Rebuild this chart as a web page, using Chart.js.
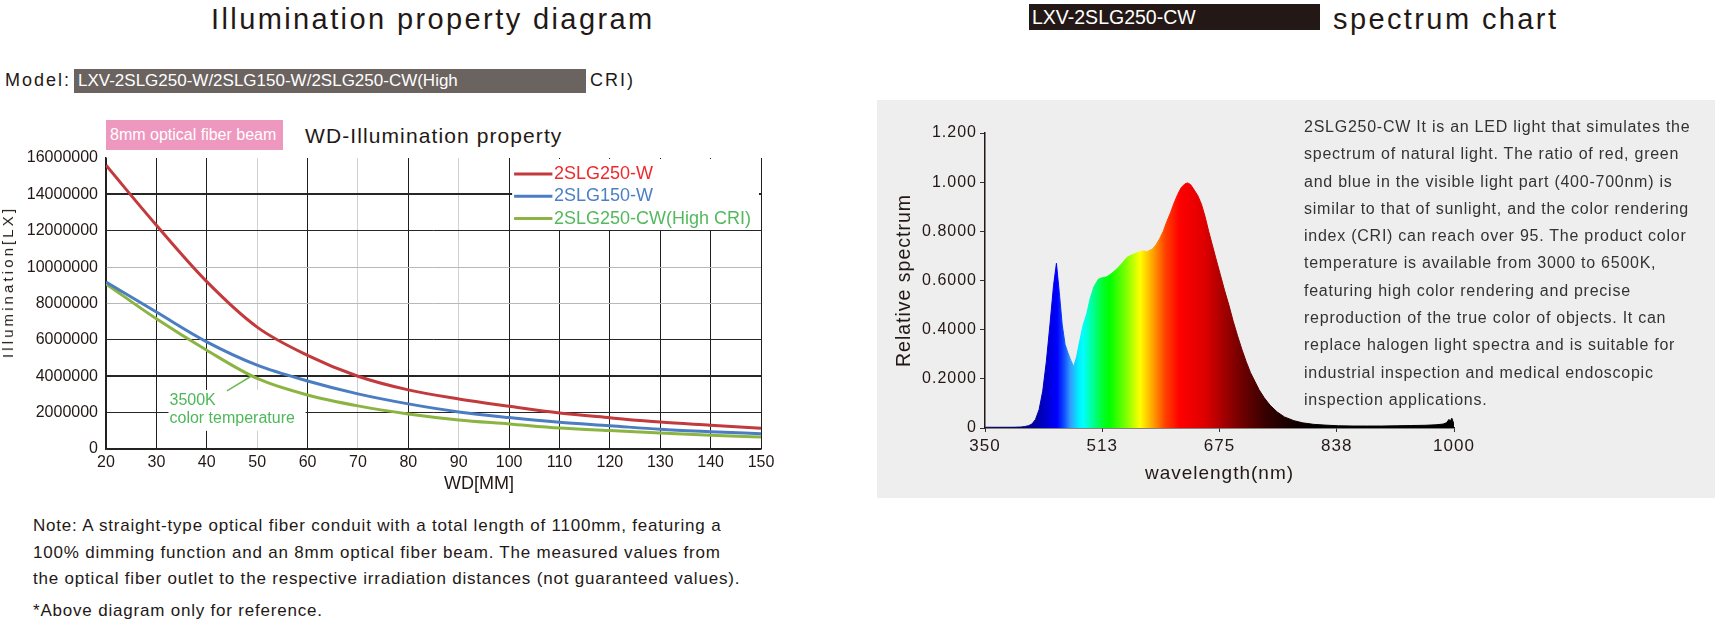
<!DOCTYPE html>
<html>
<head>
<meta charset="utf-8">
<title>Illumination property / spectrum chart</title>
<script src="https://cdn.jsdelivr.net/npm/chart.js@4.4.1/dist/chart.umd.min.js"></script>
<style>
    body { margin: 0; background: #fff; }
    #page { position: relative; width: 1718px; height: 623px; overflow: hidden;
            font-family: "Liberation Sans", Arial, sans-serif; color: #231815; }
    .abs { position: absolute; white-space: nowrap; }
    .big { font-size: 29px; line-height: 30px; letter-spacing: 2.4px; }
    .note { left: 33px; font-size: 17px; line-height: 24px; letter-spacing: 0.8px; }
    .desc { left: 1304px; top: 113px; font-size: 16px; line-height: 27.3px; letter-spacing: 0.75px; color: #333; }
</style>
</head>
<body>
<div id="page">
    <!-- left block -->
    <div class="abs big" style="left:211px; top:4px;">Illumination property diagram</div>
    <div class="abs" style="left:5px; top:68px; font-size:18px; line-height:24px; letter-spacing:2px;">Model:</div>
    <div class="abs" style="left:74px; top:69px; width:512px; height:24px; background:#6b6360; color:#fff; font-size:17px; line-height:24px; padding-left:4px; box-sizing:border-box;">LXV-2SLG250-W/2SLG150-W/2SLG250-CW(High</div>
    <div class="abs" style="left:590px; top:68px; font-size:18px; line-height:24px; letter-spacing:2px;">CRI)</div>
    <div class="abs" style="left:106px; top:120px; width:177px; height:30px; background:#ee97bf; color:#fff; font-size:16px; line-height:30px; padding-left:4px; box-sizing:border-box;">8mm optical fiber beam</div>
    <div class="abs" style="left:305px; top:123px; font-size:21px; line-height:26px; letter-spacing:1.1px;">WD-Illumination property</div>

    <div id="illumWrap" class="abs" style="left:0; top:140px; width:790px; height:340px;">
        <canvas id="illumChart"></canvas>
    </div>
    <div class="abs" style="left:8px; top:282px; transform:translate(-50%,-50%) rotate(-90deg); font-size:15px; line-height:18px; letter-spacing:3.1px;">Illumination[LX]</div>
    <div class="abs" style="left:479px; top:483px; transform:translate(-50%,-50%); font-size:18px; line-height:22px;">WD[MM]</div>

    <div class="abs note" style="top:514px;">Note: A straight-type optical fiber conduit with a total length of 1100mm, featuring a</div>
    <div class="abs note" style="top:541px;">100% dimming function and an 8mm optical fiber beam. The measured values from</div>
    <div class="abs note" style="top:567px;">the optical fiber outlet to the respective irradiation distances (not guaranteed values).</div>
    <div class="abs note" style="top:599px;">*Above diagram only for reference.</div>

    <!-- right block -->
    <div class="abs" style="left:1029px; top:4px; width:291px; height:26px; background:#231815; color:#fff; font-size:19.5px; line-height:26px; padding-left:3px; box-sizing:border-box;">LXV-2SLG250-CW</div>
    <div class="abs big" style="left:1333px; top:4px;">spectrum chart</div>
    <div class="abs" style="left:877px; top:100px; width:838px; height:398px; background:#eeeeee;"></div>
    <div id="specWrap" class="abs" style="left:877px; top:100px; width:603px; height:398px;">
        <canvas id="specChart"></canvas>
    </div>
    <div class="abs desc">2SLG250-CW It is an LED light that simulates the<br>spectrum of natural light. The ratio of red, green<br>and blue in the visible light part (400-700nm) is<br>similar to that of sunlight, and the color rendering<br>index (CRI) can reach over 95. The product color<br>temperature is available from 3000 to 6500K,<br>featuring high color rendering and precise<br>reproduction of the true color of objects. It can<br>replace halogen light spectra and is suitable for<br>industrial inspection and medical endoscopic<br>inspection applications.</div>
</div>

<script>
// ---- WD - illumination data ----
const wd = [20, 30, 40, 50, 60, 70, 80, 90, 100, 110, 120, 130, 140, 150];
const w250 = [15600000, 12300000, 9200000, 6700000, 5150000, 4000000, 3250000, 2750000, 2350000, 1980000, 1720000, 1480000, 1310000, 1140000];
const w150 = [9180000, 7530000, 5890000, 4610000, 3740000, 3030000, 2480000, 2040000, 1730000, 1470000, 1280000, 1080000, 950000, 840000];
const cw250 = [9080000, 7160000, 5430000, 3880000, 2970000, 2370000, 1930000, 1600000, 1380000, 1150000, 1020000, 880000, 750000, 660000];
const seriesNames = ['2SLG250-W', '2SLG150-W', '2SLG250-CW(High CRI)'];
const lightGridX = [50, 70, 90];
const lightGridY = [8000000, 10000000];

// ---- spectrum data ----
const wavelength = [350, 360, 370, 380, 390, 400, 405, 410, 415, 420, 425, 430, 435, 440, 445, 449, 453, 457, 461, 465,
    469, 473, 477, 481, 486, 491, 496, 501, 507, 513, 519, 526, 533, 540, 547, 554, 561, 568, 575, 582,
    587, 592, 597, 602, 607, 612, 617, 622, 627, 631, 635, 640, 645, 650, 655, 660, 665, 670, 676, 682,
    688, 694, 700, 706, 712, 718, 724, 730, 737, 745, 755, 765, 778, 790, 805, 820, 840, 860, 880, 900,
    920, 940, 960, 975, 985, 990, 993, 995, 997, 1000];
const relative = [0.003, 0.003, 0.003, 0.003, 0.003, 0.004, 0.006, 0.009, 0.016, 0.035, 0.075, 0.15, 0.27, 0.42, 0.58, 0.67, 0.55, 0.42, 0.34, 0.305,
    0.275, 0.25, 0.29, 0.35, 0.42, 0.465, 0.53, 0.575, 0.605, 0.612, 0.615, 0.63, 0.648, 0.67, 0.695, 0.705, 0.713, 0.72, 0.718, 0.728,
    0.745, 0.77, 0.8, 0.84, 0.875, 0.915, 0.95, 0.978, 0.993, 0.997, 0.99, 0.968, 0.945, 0.91, 0.86, 0.8, 0.745, 0.69, 0.625, 0.56,
    0.5, 0.434, 0.375, 0.32, 0.27, 0.225, 0.19, 0.155, 0.123, 0.093, 0.065, 0.045, 0.03, 0.021, 0.015, 0.012, 0.009, 0.008, 0.008, 0.008,
    0.009, 0.01, 0.011, 0.013, 0.016, 0.022, 0.035, 0.028, 0.04, 0.015];
const specXTicks = [350, 512.5, 675, 837.5, 1000];
const specXLabels = ['350', '513', '675', '838', '1000'];
const specYTicks = [0, 0.2, 0.4, 0.6, 0.8, 1.0, 1.2];
const specYLabels = ['0', '0.2000', '0.4000', '0.6000', '0.8000', '1.000', '1.200'];

// wavelength -> colour of the rainbow fill
const rainbow = [
    [350, '#101060'], [400, '#000070'], [425, '#0000b0'], [440, '#0000e0'], [450, '#0000ff'],
    [460, '#1050ff'], [468, '#3399ff'], [480, '#00f0ff'], [486, '#00ffff'], [500, '#00ff90'],
    [515, '#00ff20'], [523, '#00ff00'], [546, '#80ff00'], [565, '#ffff00'], [583, '#ffa000'],
    [600, '#ff4000'], [620, '#ff0000'], [655, '#dd0000'], [690, '#900000'], [705, '#700000'],
    [740, '#350000'], [780, '#100000'], [810, '#000000'], [1000, '#000000']
];

document.addEventListener('DOMContentLoaded', function() {
    const font = '"Liberation Sans", Arial, sans-serif';

    function pts(ys) {
        return wd.map((x, i) => ({ x: x, y: ys[i] }));
    }

    // legend box + "3500K" note, placed in value space
    const illumExtras = {
        id: 'illumExtras',
        beforeDatasetsDraw(chart) {
            const c = chart.ctx, x = chart.scales.x, y = chart.scales.y;
            c.save();
            c.fillStyle = '#fff';
            c.fillRect(x.getPixelForValue(100.6), y.getPixelForValue(16000000) + 1,
                x.getPixelForValue(149.6) - x.getPixelForValue(100.6),
                y.getPixelForValue(12100000) - y.getPixelForValue(16000000));
            c.fillRect(x.getPixelForValue(32.4), y.getPixelForValue(3250000),
                x.getPixelForValue(59.6) - x.getPixelForValue(32.4),
                y.getPixelForValue(1000000) - y.getPixelForValue(3250000));
            c.strokeStyle = '#6dbb4f';
            c.lineWidth = 1.5;
            c.beginPath();
            c.moveTo(x.getPixelForValue(44), y.getPixelForValue(3200000));
            c.lineTo(x.getPixelForValue(48.8), y.getPixelForValue(4000000));
            c.stroke();
            c.fillStyle = '#4db85a';
            c.font = '16px ' + font;
            c.textBaseline = 'middle';
            c.fillText('3500K', x.getPixelForValue(32.6), y.getPixelForValue(2640000));
            c.fillText('color temperature', x.getPixelForValue(32.6), y.getPixelForValue(1690000));
            c.restore();
        },
        afterDatasetsDraw(chart) {
            const c = chart.ctx, x = chart.scales.x, y = chart.scales.y;
            const rows = [15120000, 13900000, 12670000];
            const textColors = ['#ee2a2e', '#4b7fc6', '#53b95c'];
            c.save();
            c.font = '18px ' + font;
            c.textBaseline = 'middle';
            chart.data.datasets.forEach((ds, i) => {
                const py = y.getPixelForValue(rows[i]);
                c.strokeStyle = ds.borderColor;
                c.lineWidth = 3;
                c.beginPath();
                c.moveTo(x.getPixelForValue(101), py);
                c.lineTo(x.getPixelForValue(108.6), py);
                c.stroke();
                c.fillStyle = textColors[i];
                c.fillText(ds.label, x.getPixelForValue(108.9), py);
            });
            c.restore();
        }
    };

    new Chart(document.getElementById('illumChart').getContext('2d'), {
        type: 'line',
        data: {
            datasets: [
                { label: seriesNames[0], data: pts(w250), borderColor: '#c23a3c' },
                { label: seriesNames[1], data: pts(w150), borderColor: '#4a7dc2' },
                { label: seriesNames[2], data: pts(cw250), borderColor: '#8cb443' }
            ]
        },
        options: {
            responsive: true,
            maintainAspectRatio: false,
            animation: false,
            layout: { padding: { top: 18, right: 29, left: 0, bottom: 0 } },
            elements: {
                line: { borderWidth: 3, tension: 0.4, cubicInterpolationMode: 'monotone', fill: false },
                point: { radius: 0 }
            },
            plugins: { legend: { display: false }, tooltip: { enabled: false } },
            scales: {
                x: {
                    type: 'linear', min: 20, max: 150,
                    ticks: { stepSize: 10, color: '#231815', padding: 4, font: { size: 16, family: font } },
                    grid: {
                        drawTicks: false,
                        color: ctx => lightGridX.includes(ctx.tick.value) ? '#d0d0d0' : '#1e1e1e',
                        lineWidth: 1
                    },
                    border: { color: '#222', width: 1.5 },
                    afterFit: s => { s.height = 31; }
                },
                y: {
                    min: 0, max: 16000000,
                    ticks: { stepSize: 2000000, color: '#231815', padding: 8, font: { size: 16, family: font },
                        callback: v => String(v) },
                    grid: {
                        drawTicks: false,
                        color: ctx => {
                            if (ctx.tick.value === 16000000) return 'rgba(0,0,0,0)';
                            return lightGridY.includes(ctx.tick.value) ? '#b8b8b8' : '#262626';
                        },
                        lineWidth: ctx => (ctx.tick.value === 4000000 || ctx.tick.value === 14000000) ? 2 : 1
                    },
                    border: { color: '#222', width: 1.5 },
                    afterFit: s => { s.width = 106; }
                }
            }
        },
        plugins: [illumExtras]
    });

    // ---- spectrum ----
    const spacing = {
        id: 'spacing',
        beforeUpdate(chart) { chart.ctx.letterSpacing = '1px'; },
        beforeDraw(chart) { chart.ctx.letterSpacing = '1px'; }
    };

    function rainbowFill(context) {
        const chart = context.chart;
        if (!chart.chartArea) return '#00f';
        const xs = chart.scales.x;
        const g = chart.ctx.createLinearGradient(xs.getPixelForValue(350), 0, xs.getPixelForValue(1000), 0);
        rainbow.forEach(s => g.addColorStop((s[0] - 350) / 650, s[1]));
        return g;
    }

    new Chart(document.getElementById('specChart').getContext('2d'), {
        type: 'line',
        data: {
            datasets: [{
                label: 'Relative spectrum',
                data: wavelength.map((w, i) => ({ x: w, y: relative[i] })),
                backgroundColor: rainbowFill,
                borderColor: rainbowFill,
                borderWidth: 1,
                fill: 'origin',
                tension: 0,
                pointRadius: 0
            }]
        },
        options: {
            responsive: true,
            maintainAspectRatio: false,
            animation: false,
            layout: { padding: { top: 33, right: 26, left: 0, bottom: 0 } },
            plugins: { legend: { display: false }, tooltip: { enabled: false } },
            scales: {
                x: {
                    type: 'linear', min: 350, max: 1000,
                    afterBuildTicks: s => { s.ticks = specXTicks.map(v => ({ value: v })); },
                    ticks: { color: '#231815', padding: 4, maxRotation: 0, font: { size: 17, family: font },
                        callback: (v, i) => specXLabels[i] },
                    grid: { drawOnChartArea: false, color: '#333', tickLength: 4 },
                    border: { color: '#231815', width: 1.5 },
                    title: { display: true, text: 'wavelength(nm)', color: '#231815',
                        font: { size: 19, family: font }, padding: { top: 0, bottom: 13 } },
                    afterFit: s => { s.height = 70; }
                },
                y: {
                    min: 0, max: 1.2,
                    afterBuildTicks: s => { s.ticks = specYTicks.map(v => ({ value: v })); },
                    ticks: { color: '#231815', padding: 3, font: { size: 16, family: font },
                        callback: (v, i) => specYLabels[i] },
                    grid: { drawOnChartArea: false, color: '#333', tickLength: 5 },
                    border: { color: '#231815', width: 1.5 },
                    title: { display: true, text: 'Relative spectrum', color: '#231815',
                        font: { size: 19.5, family: font }, padding: { top: 16, bottom: 0 } },
                    afterFit: s => { s.width = 108; }
                }
            }
        },
        plugins: [spacing]
    });
});
</script>
</body>
</html>
